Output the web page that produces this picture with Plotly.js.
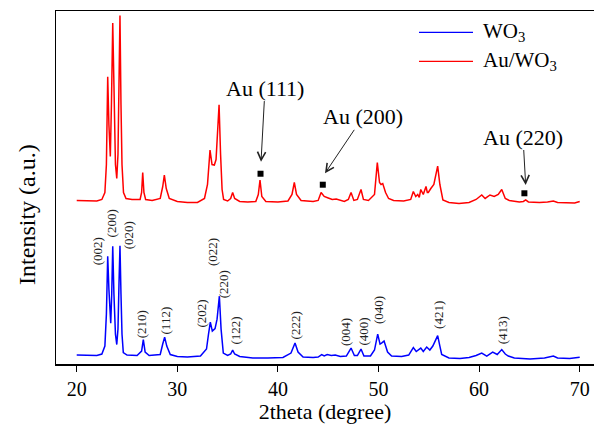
<!DOCTYPE html>
<html>
<head>
<meta charset="utf-8">
<script src="https://cdn.plot.ly/plotly-3.0.1.min.js"></script>
<style>html,body{margin:0;padding:0;background:#fff;}#chart{width:594px;height:429px;}</style>
</head>
<body>
<div id="chart"></div>
<script>
// ---- data ----
const seriesNames = ['WO<sub>3</sub>', 'Au/WO<sub>3</sub>'];

const wo3X = [20.0,21.0,22.0,22.5,22.8,22.95,23.08,23.2,23.38,23.48,23.58,23.7,23.85,23.98,24.1,24.2,24.3,24.4,24.5,24.63,25.0,26.0,26.45,26.62,26.8,27.2,28.3,28.55,28.74,28.95,29.3,30.0,31.0,32.3,32.9,33.1,33.28,33.48,33.75,33.95,34.18,34.35,34.57,35.0,35.3,35.5,35.7,36.2,37.5,39.0,40.5,41.3,41.7,42.0,42.5,43.5,44.0,44.35,44.6,44.9,45.3,45.7,46.2,46.8,47.27,47.6,47.9,48.26,48.55,49.2,49.6,49.92,50.15,50.3,50.55,50.9,51.3,52.3,53.0,53.46,53.75,54.2,54.45,54.79,55.1,55.4,55.88,56.1,56.28,57.0,58.1,59.0,59.7,60.26,60.76,61.35,61.8,62.25,62.6,62.9,63.5,65.06,66.5,67.38,67.8,69.0,70.0];
const wo3Y = [9,8.5,8.5,10,18,50,108,75,41,70,118,70,30,19.5,35,80,118.5,70,30,11.5,9,8.5,13,24.5,12,8.5,9.5,20,27,18,9.5,7.5,7,8,15,30,42,33,35.5,45,68,35,11,8.5,10,14,10,7.5,6,6,6.5,11,21,12,7,6.5,7,9.5,8,9.5,8.5,9,7.5,8,16,8.5,8.5,15,8,8,14,30,20,21,23,12,8,7.5,9,16.5,12.5,16,12.5,17,14,18,28.5,18,9.5,6,5.5,6.5,8.5,11,8,12,9.5,14.5,10,8,6,5,6,8,6,5.5,6.8];

const auwo3X = [20.0,21.0,22.0,22.5,22.8,22.95,23.08,23.2,23.34,23.45,23.58,23.7,23.85,23.98,24.1,24.2,24.3,24.4,24.5,24.65,24.9,25.5,26.3,26.45,26.56,26.68,26.85,27.5,28.3,28.55,28.71,28.9,29.2,30.0,31.0,32.0,32.7,33.0,33.25,33.45,33.68,33.85,34.0,34.15,34.3,34.45,34.6,35.0,35.3,35.5,35.7,36.2,37.0,37.8,38.05,38.22,38.4,38.8,40.0,41.0,41.4,41.63,41.85,42.3,43.5,44.0,44.29,44.6,45.0,45.4,45.8,46.2,46.6,47.0,47.27,47.55,47.9,48.26,48.5,49.0,49.6,49.88,50.1,50.25,50.42,50.7,51.0,51.5,52.5,53.2,53.46,53.7,53.9,54.05,54.2,54.45,54.72,54.85,54.95,55.2,55.5,55.88,56.1,56.4,57.0,58.0,59.0,59.7,60.26,60.6,61.08,61.5,61.9,62.25,62.6,63.0,64.0,64.4,64.63,64.9,66.0,66.8,67.38,67.8,68.5,69.5,70.0];
const auwo3Y = [164,164,163.5,165,172,200,288,240,208,260,342,280,200,186,210,280,349.5,260,200,172,166,165,165,172,192,172,165,164,166,178,189.5,176,166,163,162,162,166,180,214.5,200,199.5,205,230,260,210,175,165,163.5,166,172,166,163,162.5,163,170,184.5,168,163,162.5,163.5,170,182,170,164,163,164,172,168,166.5,165,165.5,164,163,165,172,164,165,175,165,164,170,202,182,180,181,172,166,164,163.5,165,173,168,170,167,175,170,178,172,172,176,180,198.5,180,164.5,162,161,162,165,169.5,166,169.5,168,170,175,166,164,162.5,163,164.5,162.5,162,162.5,163.5,162,161.5,161.5,163];

// Au reflections (marked with squares on the Au/WO3 pattern)
const auLabels = ['Au (111)', 'Au (200)', 'Au (220)'];
const auMarkX = [38.27, 44.46, 64.5];
const auMarkY = [190.8, 179.8, 171.2];

// WO3 reflection labels
const hklLabels = ['(002)','(200)','(020)','(210)','(112)','(202)','(022)','(220)','(122)','(222)','(004)','(400)','(040)','(421)','(413)'];

const xTicks = [20, 30, 40, 50, 60, 70];

// ---- placement / style (not data) ----
const hklPos = [[22.09,112.8],[23.48,140.7],[25.23,129.5],[26.46,39.5],[28.78,43.7],[32.43,50.3],[33.52,112],[34.67,80.3],[35.74,33.7],[41.70,38.7],[46.67,32],[48.49,32.8],[49.98,54.5],[55.94,49.5],[62.41,34.2]];
// arrow head (data) and offset of the label centre from it (px)
const auArrowHead = [[38.32,202.8],[44.68,191.2],[64.63,179.5]];
const auTextOff = [[4,-73.7],[38,-56.5],[-2.7,-48]];

const FONT = "'Liberation Serif', 'Times New Roman', Times, serif";

const traces = [
  {x: wo3X, y: wo3Y, type: 'scatter', mode: 'lines', name: seriesNames[0],
   line: {color: '#0000ff', width: 1.5}, showlegend: false},
  {x: auwo3X, y: auwo3Y, type: 'scatter', mode: 'lines', name: seriesNames[1],
   line: {color: '#ff0000', width: 1.5}, showlegend: false},
  {x: auMarkX, y: auMarkY, type: 'scatter', mode: 'markers', name: 'Au',
   marker: {symbol: 'square', size: 6, color: '#000'}, showlegend: false}
];

const annotations = [];
hklLabels.forEach((t, i) => {
  annotations.push({x: hklPos[i][0], y: hklPos[i][1], xref: 'x', yref: 'y', text: t,
    textangle: -90, showarrow: false, xanchor: 'center', yanchor: 'middle',
    font: {family: FONT, size: 13, color: '#222'}});
});
auLabels.forEach((t, i) => {
  annotations.push({x: auArrowHead[i][0], y: auArrowHead[i][1], xref: 'x', yref: 'y', text: t,
    showarrow: true, ax: auTextOff[i][0], ay: auTextOff[i][1], arrowhead: 5, arrowsize: 1.6,
    arrowwidth: 1, arrowcolor: '#222', standoff: 0, startstandoff: 0, borderpad: 0,
    font: {family: FONT, size: 22, color: '#000'}});
});
// y-axis title
annotations.push({x: -0.054, y: 0.425, xref: 'paper', yref: 'paper', text: 'Intensity (a.u.)',
  textangle: -90, showarrow: false, xanchor: 'center', yanchor: 'middle',
  font: {family: FONT, size: 24, color: '#000'}});

// manual legend
const legendColors = ['#0000ff', '#ff0000'];
const legendRowY = [0.9393, 0.8573];
const shapes = [];
seriesNames.forEach((n, i) => {
  shapes.push({type: 'line', xref: 'paper', yref: 'paper', x0: 0.6747, x1: 0.7751,
    y0: legendRowY[i], y1: legendRowY[i], line: {color: legendColors[i], width: 1.2}});
  annotations.push({x: 0.790, y: legendRowY[i], xref: 'paper', yref: 'paper', text: n,
    xanchor: 'left', yanchor: 'middle', showarrow: false, font: {family: FONT, size: 21, color: '#000'}});
});

const layout = {
  width: 594, height: 429,
  margin: {l: 56, r: 0, t: 10.5, b: 64.5},
  paper_bgcolor: '#fff', plot_bgcolor: '#fff',
  showlegend: false,
  xaxis: {range: [17.94, 71.42], tickvals: xTicks, ticktext: xTicks.map(String),
    ticks: 'outside', ticklen: 6, tickwidth: 1, tickcolor: '#000',
    showline: true, linecolor: '#000', linewidth: 1.5, mirror: true,
    showgrid: false, zeroline: false,
    tickfont: {family: FONT, size: 20, color: '#000'},
    title: {text: '2theta (degree)', font: {family: FONT, size: 22, color: '#000'}, standoff: 3}},
  yaxis: {range: [0, 354], showticklabels: false, ticks: '', showline: true,
    linecolor: '#000', linewidth: 1.5, mirror: false, showgrid: false, zeroline: false},
  shapes: shapes,
  annotations: annotations
};

Plotly.newPlot('chart', traces, layout, {displayModeBar: false, staticPlot: true});
</script>
</body>
</html>
